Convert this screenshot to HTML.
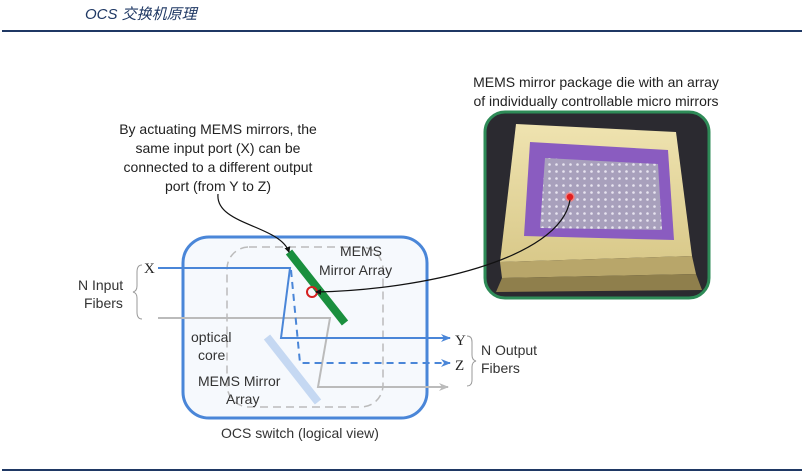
<!DOCTYPE html>
<html><head><meta charset="utf-8"><style>
html,body{margin:0;padding:0;background:#fff;}
svg{display:block;}
text{font-family:"Liberation Sans","Noto Sans CJK SC",sans-serif;}
</style></head><body>
<svg width="805" height="475" viewBox="0 0 805 475" xmlns="http://www.w3.org/2000/svg">
<defs>
<marker id="ab" markerWidth="10" markerHeight="10" refX="9" refY="5" orient="auto" markerUnits="userSpaceOnUse"><path d="M0,1 L10,5 L0,9 L3,5z" fill="#4a86d8"/></marker>
<marker id="ag" markerWidth="10" markerHeight="10" refX="9" refY="5" orient="auto" markerUnits="userSpaceOnUse"><path d="M0,1 L10,5 L0,9 L3,5z" fill="#bbb"/></marker>
<marker id="ak" markerWidth="6" markerHeight="6" refX="5" refY="3" orient="auto" markerUnits="userSpaceOnUse"><path d="M0,0 L6,3 L0,6z" fill="#111"/></marker>
<pattern id="dots" width="7" height="7" patternUnits="userSpaceOnUse"><circle cx="3.5" cy="3.5" r="1.3" fill="#e8e4f0"/></pattern>
<linearGradient id="gold" x1="0" y1="0" x2="0" y2="1"><stop offset="0" stop-color="#efe3b0"/><stop offset="1" stop-color="#d9c98a"/></linearGradient>
</defs>
<text x="85" y="19" font-size="15" font-style="italic" fill="#1f3864">OCS 交换机原理</text>
<rect x="2" y="30" width="800" height="2" fill="#1f3864"/>
<rect x="2" y="469" width="800" height="2" fill="#1f3864"/>

<g font-size="14" fill="#222" text-anchor="middle">
<text x="218" y="134">By actuating MEMS mirrors, the</text>
<text x="218" y="153">same input port (X) can be</text>
<text x="218" y="172">connected to a different output</text>
<text x="218" y="191">port (from Y to Z)</text>
<text x="596" y="87">MEMS mirror package die with an array</text>
<text x="596" y="106">of individually controllable micro mirrors</text>
</g>

<rect x="485" y="112" width="224" height="186" rx="20" fill="#2b2a30" stroke="#2e8b57" stroke-width="3"/>
<path d="M516 124 L676 132 L692 256 L500 262 Z" fill="url(#gold)"/>
<path d="M500 262 L692 256 L696 274 L502 278 Z" fill="#b8a66a"/>
<path d="M502 278 L696 274 L702 290 L496 292 Z" fill="#8f7f4c"/>
<path d="M530 142 L668 150 L674 240 L524 236 Z" fill="#8a5cc0"/>
<path d="M545 158 L658 164 L662 230 L540 228 Z" fill="#a8a0bc"/>
<path d="M545 158 L658 164 L662 230 L540 228 Z" fill="url(#dots)"/>
<circle cx="570" cy="197" r="4" fill="#e02020" stroke="#f08080" stroke-width="1.5"/>

<rect x="183" y="237" width="244" height="181" rx="26" fill="#f6f9fd" stroke="#4a86d8" stroke-width="3"/>
<rect x="227" y="247" width="156" height="160" rx="22" fill="none" stroke="#bbb" stroke-width="1.5" stroke-dasharray="8,5"/>
<line x1="267" y1="337" x2="318" y2="402" stroke="#c5d8f2" stroke-width="8"/>
<line x1="289" y1="252" x2="345" y2="323" stroke="#1a8f3e" stroke-width="8"/>
<polyline points="158,318 330,318 318,387 448,387" fill="none" stroke="#bbb" stroke-width="2" marker-end="url(#ag)"/>
<polyline points="158,268 290,268 281,338 450,338" fill="none" stroke="#4a86d8" stroke-width="2" marker-end="url(#ab)"/>
<polyline points="291,270 300,363 450,363" fill="none" stroke="#4a86d8" stroke-width="2" stroke-dasharray="7,5" marker-end="url(#ab)"/>
<circle cx="312" cy="292" r="5" fill="none" stroke="#d52020" stroke-width="2"/>
<path d="M218 194 C215 225 280 225 289 252" fill="none" stroke="#111" stroke-width="1.2" marker-end="url(#ak)"/>
<path d="M570 200 C560 260 420 290 316 292" fill="none" stroke="#111" stroke-width="1.2" marker-end="url(#ak)"/>

<g font-size="14" fill="#333">
<text x="340" y="256">MEMS</text>
<text x="319" y="275">Mirror Array</text>
<text x="191" y="342">optical</text>
<text x="198" y="360">core</text>
<text x="198" y="386">MEMS Mirror</text>
<text x="226" y="404">Array</text>
<text x="300" y="438" text-anchor="middle">OCS switch (logical view)</text>
<text x="78" y="290">N Input</text>
<text x="84" y="308">Fibers</text>
<text x="481" y="355">N Output</text>
<text x="481" y="373">Fibers</text>
</g>
<g font-size="15" fill="#222">
<text x="144" y="273" style="font-family:'Liberation Serif',serif">X</text>
<text x="455" y="345" style="font-family:'Liberation Serif',serif">Y</text>
<text x="455" y="370" style="font-family:'Liberation Serif',serif">Z</text>
</g>
<path d="M142 265 Q137 265 137 272 L137 286 Q137 291 133 292 Q137 293 137 298 L137 312 Q137 319 142 319" fill="none" stroke="#999" stroke-width="1"/>
<path d="M467 336 Q472 336 472 342 L472 355 Q472 360 476 361 Q472 362 472 367 L472 380 Q472 386 467 386" fill="none" stroke="#999" stroke-width="1"/>
</svg>
</body></html>
